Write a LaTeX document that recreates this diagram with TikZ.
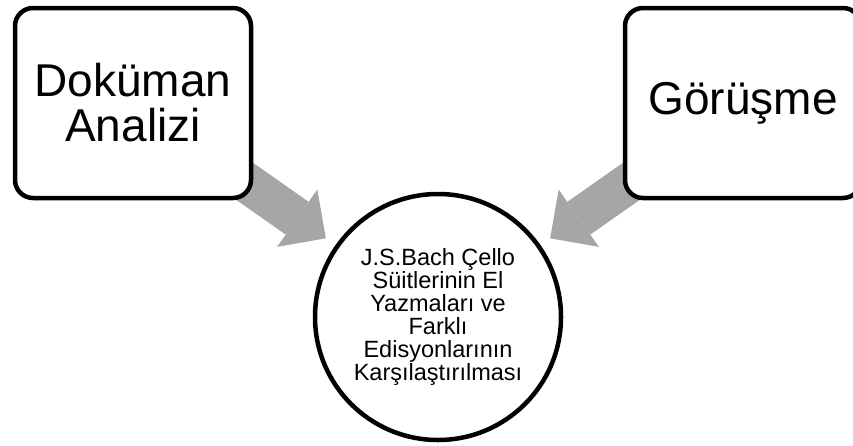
\documentclass[tikz,border=0pt]{standalone}
\usepackage{fontspec}
\setmainfont{Liberation Sans}
\usepackage{tikz}
\usetikzlibrary{calc,arrows.meta,backgrounds}
\definecolor{arrowgray}{RGB}{166,166,166}

\begin{document}
\begin{tikzpicture}[x=1pt,y=-1pt,
  box/.style={draw,line width=4.5pt,rounded corners=18pt,fill=white,
    minimum width=236pt,minimum height=190pt,align=center,
    font=\fontsize{46}{45}\selectfont},
  flow/.style={line width=40pt,arrowgray,
    -{Triangle[width=70pt,length=35pt,line width=0pt]}}]
\path[use as bounding box,clip] (0,0) rectangle (853,445);
\node[box] (doc) at (133,103) {Doküman\\Analizi};
\node[box] (gor) at (743,103) {Görüşme};
\node[circle,draw,line width=4.5pt,fill=white,minimum size=246pt,inner sep=0pt,
  align=center,font=\fontsize{23.5}{23}\selectfont] (circ) at (438,317)
  {J.S.Bach Çello\\Süitlerinin El\\Yazmaları ve\\Farklı\\Edisyonlarının\\Karşılaştırılması};
% the gray arrows go under the boxes
\coordinate (tipL) at ($(circ)!137pt!(doc)$);
\coordinate (tipR) at ($(circ)!137pt!(gor)$);
\begin{scope}[on background layer]
\draw[flow] (doc.center) -- (tipL);
\draw[flow] (gor.center) -- (tipR);
\end{scope}
\end{tikzpicture}
\end{document}
